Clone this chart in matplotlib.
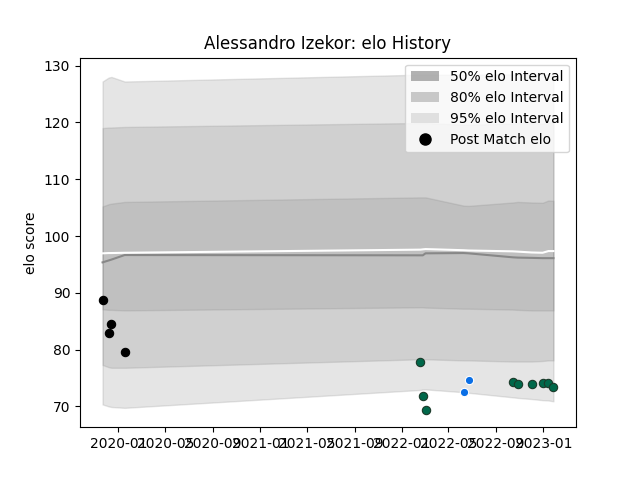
import matplotlib
matplotlib.use("Agg")
import matplotlib.pyplot as plt
from matplotlib.patches import Patch
from matplotlib.lines import Line2D
import numpy as np
from datetime import datetime

player = "Alessandro Izekor"

# one entry per match
match_dates = ["2019-11-21", "2019-12-07", "2019-12-14", "2020-01-17",
               "2022-02-18", "2022-02-24", "2022-03-03", "2022-06-09",
               "2022-06-22", "2022-10-14", "2022-10-27", "2022-12-02",
               "2022-12-30", "2023-01-14", "2023-01-27"]
post_match_elo = [88.8, 83.0, 84.5, 79.6, 77.8, 71.9, 69.3, 72.5,
                  74.7, 74.35, 74.0, 73.9, 74.2, 74.2, 73.5]
# colour group of each point: 0 = early, 1 = green, 2 = blue
point_group = [0, 0, 0, 0, 1, 1, 1, 2, 2, 1, 1, 1, 1, 1, 1]

# interval bounds at each match date
lo95 = [70.35, 70.0, 69.9, 69.75, 72.9, 73.0, 73.0, 72.5, 72.4, 71.6, 71.5, 71.3, 71.1, 71.05, 70.9]
hi95 = [127.2, 127.9, 128.0, 127.2, 128.4, 128.4, 128.4, 128.4, 128.4, 128.45, 128.45, 128.45, 128.45, 128.45, 128.45]
lo80 = [77.3, 76.9, 76.8, 76.8, 78.3, 78.3, 78.3, 78.1, 78.1, 77.9, 77.9, 77.9, 78.0, 78.1, 78.1]
hi80 = [119.0, 119.1, 119.1, 119.2, 119.9, 119.9, 119.9, 119.6, 119.6, 119.8, 119.9, 119.9, 119.8, 120.0, 120.0]
lo50 = [87.1, 87.0, 87.0, 86.9, 87.45, 87.45, 87.4, 87.2, 87.2, 87.05, 87.0, 86.9, 86.9, 86.9, 86.9]
hi50 = [105.2, 105.6, 105.7, 106.0, 106.8, 106.8, 106.8, 105.35, 105.3, 105.9, 106.0, 105.9, 105.85, 106.25, 106.2]
mean_elo = [96.95, 97.0, 97.0, 97.05, 97.6, 97.65, 97.7, 97.5, 97.45, 97.3, 97.25, 97.1, 97.05, 97.35, 97.35]
median_elo = [95.36, 95.7, 95.85, 96.65, 96.6, 96.6, 96.95, 97.0, 96.95, 96.25, 96.2, 96.15, 96.1, 96.1, 96.1]

dates = [datetime.strptime(d, "%Y-%m-%d") for d in match_dates]
group_colors = {0: "black", 1: "#00684a", 2: "#0a6fe6"}
group_edges = {0: "black", 1: "#1b3a2a", 2: "white"}

fig, ax = plt.subplots(figsize=(6.4, 4.8), dpi=100)

# nested bands, same grey with low alpha so they stack up
ax.fill_between(dates, lo95, hi95, color="grey", alpha=0.2)
ax.fill_between(dates, lo80, hi80, color="grey", alpha=0.2)
ax.fill_between(dates, lo50, hi50, color="grey", alpha=0.2)

ax.plot(dates, median_elo, color="#888888", lw=1.5)
ax.plot(dates, mean_elo, color="white", lw=1.5)

for g in (0, 1, 2):
    xs = [d for d, k in zip(dates, point_group) if k == g]
    ys = [v for v, k in zip(post_match_elo, point_group) if k == g]
    ax.scatter(xs, ys, s=36, c=group_colors[g], edgecolors=group_edges[g],
               linewidths=0.8, zorder=3)

handles = [Patch(facecolor="grey", alpha=0.6, label="50% elo Interval"),
           Patch(facecolor="grey", alpha=0.4, label="80% elo Interval"),
           Patch(facecolor="grey", alpha=0.2, label="95% elo Interval"),
           Line2D([], [], marker="o", color="black", linestyle="None",
                  markersize=8, label="Post Match elo")]
ax.legend(handles=handles, loc="upper right")

ax.set_title(f"{player}: elo History")
ax.set_ylabel("elo score")

fig.savefig("out.png", dpi=100)
